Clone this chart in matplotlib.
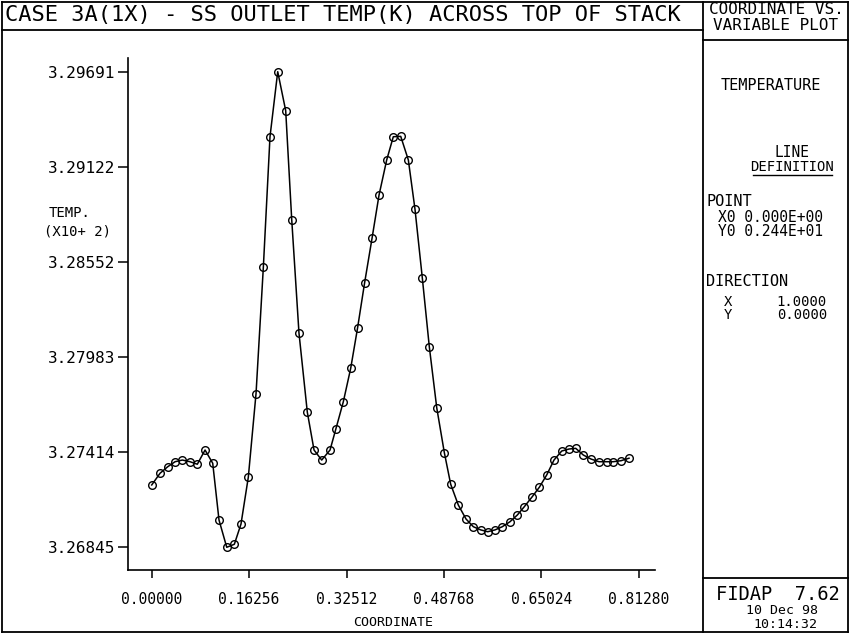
import matplotlib
matplotlib.use("Agg")
import matplotlib.pyplot as plt
from matplotlib.lines import Line2D

# ---------------- data ----------------
coord = [0.0000, 0.0139, 0.0267, 0.0389, 0.0511, 0.0639, 0.0761, 0.0890, 0.1018, 0.1123,
         0.1252, 0.1379, 0.1490, 0.1612, 0.1741, 0.1863, 0.1974, 0.2103, 0.2236, 0.2337,
         0.2458, 0.2597, 0.2709, 0.2837, 0.2976, 0.3071, 0.3198, 0.3321, 0.3435, 0.3552,
         0.3677, 0.3794, 0.3922, 0.4032, 0.4156, 0.4283, 0.4394, 0.4516, 0.4633, 0.4757,
         0.4884, 0.4990, 0.5117, 0.5246, 0.5368, 0.5491, 0.5608, 0.5730, 0.5851, 0.5980,
         0.6102, 0.6219, 0.6352, 0.6469, 0.6593, 0.6714, 0.6843, 0.6965, 0.7077, 0.7204,
         0.7332, 0.7465, 0.7592, 0.7702, 0.7833, 0.7966]
temp = [3.27218, 3.27288, 3.27327, 3.27357, 3.27367, 3.27357, 3.27342, 3.27427, 3.27348, 3.27008,
        3.26845, 3.26863, 3.26984, 3.27264, 3.27765, 3.28521, 3.29302, 3.29691, 3.29458, 3.28804,
        3.28126, 3.27653, 3.27427, 3.27367, 3.27427, 3.27550, 3.27716, 3.27916, 3.28156, 3.28425,
        3.28694, 3.28953, 3.29163, 3.29302, 3.29304, 3.29163, 3.28868, 3.28458, 3.28045, 3.27680,
        3.27411, 3.27222, 3.27098, 3.27014, 3.26968, 3.26949, 3.26938, 3.26949, 3.26968, 3.26998,
        3.27038, 3.27088, 3.27148, 3.27204, 3.27278, 3.27367, 3.27421, 3.27433, 3.27437, 3.27397,
        3.27373, 3.27357, 3.27357, 3.27357, 3.27363, 3.27378]

xtick_vals = [0.0, 0.16256, 0.32512, 0.48768, 0.65024, 0.81280]
xtick_labels = ["0.00000", "0.16256", "0.32512", "0.48768", "0.65024", "0.81280"]
ytick_vals = [3.26845, 3.27414, 3.27983, 3.28552, 3.29122, 3.29691]
ytick_labels = ["3.26845", "3.27414", "3.27983", "3.28552", "3.29122", "3.29691"]

title = "CASE 3A(1X) - SS OUTLET TEMP(K) ACROSS TOP OF STACK"

# ---------------- figure ----------------
W, H = 850, 634
FONT = "DejaVu Sans Mono"
fig = plt.figure(figsize=(W / 100, H / 100), dpi=100)
fig.patch.set_facecolor("white")


def fx(x):
    return x / W


def fy(y):
    return 1 - y / H


def hline(y, x0, x1, lw=1.3):
    fig.add_artist(Line2D([fx(x0), fx(x1)], [fy(y), fy(y)], transform=fig.transFigure,
                          color="black", lw=lw))


def vline(x, y0, y1, lw=1.3):
    fig.add_artist(Line2D([fx(x), fx(x)], [fy(y0), fy(y1)], transform=fig.transFigure,
                          color="black", lw=lw))


def txt(x, y, s, size, ha="left", **kw):
    fig.text(fx(x), fy(y), s, fontsize=size, ha=ha, va="center", family=FONT, **kw)


# frame lines
hline(2, 2, 848)
hline(632, 2, 848)
vline(2, 2, 632)
vline(848, 2, 632)
hline(30, 2, 703)
vline(703, 2, 632)
hline(40, 703, 848)
hline(578, 703, 848)

# axes
ax = fig.add_axes([fx(128), fy(570), fx(655) - fx(128), fy(58) - fy(570)])
ax.plot(coord, temp, color="black", lw=1.1, marker="o", markersize=5.5,
        markerfacecolor="none", markeredgecolor="black", markeredgewidth=1.0)
ax.set_xlim(-0.0396, 0.8400)
ax.set_ylim(3.26709, 3.29773)
ax.spines["top"].set_visible(False)
ax.spines["right"].set_visible(False)
ax.spines["left"].set_linewidth(1.2)
ax.spines["bottom"].set_linewidth(1.2)
ax.set_xticks(xtick_vals, labels=xtick_labels)
ax.set_yticks(ytick_vals, labels=ytick_labels)
ax.tick_params(axis="x", direction="out", length=6, width=1.1, pad=10, labelsize=10.5)
ax.tick_params(axis="y", direction="out", length=7, width=1.1, pad=2.5, labelsize=11.5)
for lab in ax.get_xticklabels() + ax.get_yticklabels():
    lab.set_family(FONT)

# texts
txt(5, 15, title, 15.8)
txt(776, 10, "COORDINATE VS.", 11.5, ha="center")
txt(776, 26, "VARIABLE PLOT", 11.5, ha="center")

txt(70, 213, "TEMP.", 10, ha="center")
txt(78, 232, "(X10+ 2)", 10, ha="center")
txt(393, 622, "COORDINATE", 9.5, ha="center")

txt(771, 86, "TEMPERATURE", 11, ha="center")
txt(792, 152, "LINE", 10.5, ha="center")
txt(792, 167, "DEFINITION", 10, ha="center")
hline(175, 753, 832, lw=1.0)
txt(706, 201, "POINT", 11)
txt(718, 217, "X0 0.000E+00", 10.5)
txt(718, 231, "Y0 0.244E+01", 10.5)
txt(706, 281, "DIRECTION", 11)
txt(724, 302, "X", 10)
txt(827, 302, "1.0000", 10, ha="right")
txt(724, 315, "Y", 10)
txt(827, 315, "0.0000", 10, ha="right")

txt(778, 595, "FIDAP  7.62", 13.5, ha="center")
txt(782, 611, "10 Dec 98", 9.5, ha="center")
txt(785, 625, "10:14:32", 9.5, ha="center")

fig.savefig("out.png", dpi=100, facecolor="white")
